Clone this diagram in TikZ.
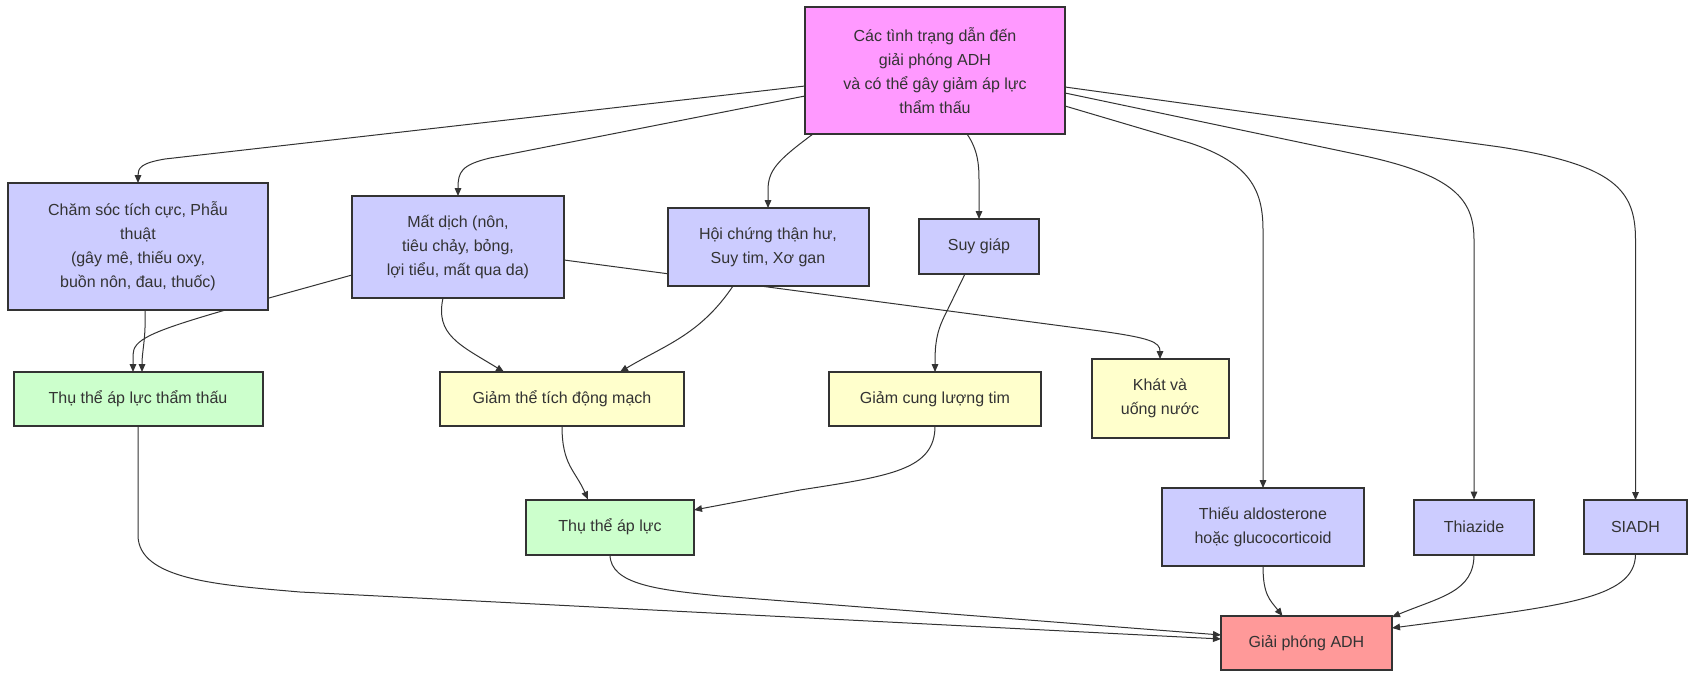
\documentclass[tikz,border=0pt]{standalone}
\usepackage{fontspec}
\setmainfont{Liberation Sans}
\usetikzlibrary{arrows.meta,backgrounds}
\definecolor{ink}{HTML}{333333}
\definecolor{pinkc}{HTML}{FF99FF}
\definecolor{bluec}{HTML}{CCCCFF}
\definecolor{greenc}{HTML}{CCFFCC}
\definecolor{yellowc}{HTML}{FFFFCC}
\definecolor{redc}{HTML}{FF9999}
\tikzset{
  box/.style={draw=ink, line width=1.5pt, inner sep=0pt, outer sep=0pt,
    align=center, text=ink, font=\fontsize{12}{18}\selectfont},
  conn/.style={draw=ink, line width=0.75pt, -{Triangle[length=6pt,width=5pt]}}
}
\begin{document}
\begin{tikzpicture}[x=0.75pt,y=-0.75pt]
\useasboundingbox (0,0) rectangle (1695,678);
% nodes
\node[box, fill=pinkc, minimum width=195pt, minimum height=95.25pt] (top) at (935,70.5)
  {Các tình trạng dẫn đến\\giải phóng ADH\\và có thể gây giảm áp lực\\thẩm thấu};
\node[box, fill=bluec, minimum width=195pt, minimum height=95.25pt] (A) at (138,246.5)
  {Chăm sóc tích cực, Phẫu\\thuật\\(gây mê, thiếu oxy,\\buồn nôn, đau, thuốc)};
\node[box, fill=bluec, minimum width=159pt, minimum height=76.5pt] (B) at (458,247)
  {Mất dịch (nôn,\\tiêu chảy, bỏng,\\lợi tiểu, mất qua da)};
\node[box, fill=bluec, minimum width=150.75pt, minimum height=58.5pt] (C) at (768,247)
  {Hội chứng thận hư,\\Suy tim, Xơ gan};
\node[box, fill=bluec, minimum width=90pt, minimum height=41.25pt] (suy) at (979,246.5)
  {Suy giáp};
\node[box, fill=greenc, minimum width=186.75pt, minimum height=40.5pt] (OR) at (138,399)
  {Thụ thể áp lực thẩm thấu};
\node[box, fill=yellowc, minimum width=183pt, minimum height=40.5pt] (AV) at (562,399)
  {Giảm thể tích động mạch};
\node[box, fill=yellowc, minimum width=159pt, minimum height=40.5pt] (CO) at (935,399)
  {Giảm cung lượng tim};
\node[box, fill=yellowc, minimum width=102.75pt, minimum height=59.25pt] (khat) at (1160,398.5)
  {Khát và\\uống nước};
\node[box, fill=greenc, minimum width=126pt, minimum height=41.25pt] (baro) at (610,527)
  {Thụ thể áp lực};
\node[box, fill=bluec, minimum width=151.5pt, minimum height=58.5pt] (thieu) at (1263,527)
  {Thiếu aldosterone\\hoặc glucocorticoid};
\node[box, fill=bluec, minimum width=90pt, minimum height=41.25pt] (thiaz) at (1474,527)
  {Thiazide};
\node[box, fill=bluec, minimum width=77.25pt, minimum height=40.5pt] (siadh) at (1635.5,527)
  {SIADH};
\node[box, fill=redc, minimum width=128.25pt, minimum height=40.5pt] (adh) at (1306.5,643)
  {Giải phóng ADH};
% connectors
\begin{scope}[on background layer]
\fill[white] (0,0) rectangle (1695,678);
\draw[conn] ([shift={(0,15.5)}]top.west) -- (165,159) .. controls (141,163) and (138,168) .. (A.north);
\draw[conn] ([shift={(0,25.5)}]top.west) -- (490,158) .. controls (461,165) and (458,172) .. (B.north);
\draw[conn] ([shift={(8,0)}]top.south west) .. controls (778,160) and (768,170) .. (768,190) -- (C.north);
\draw[conn] ([shift={(32,0)}]top.south) .. controls (978,150) and (979,165) .. (979,180) -- (suy.north);
\draw[conn] ([shift={(0,35.5)}]top.east) -- (1190,143) .. controls (1250,163) and (1263,190) .. (1263,230) -- (thieu.north);
\draw[conn] ([shift={(0,22.5)}]top.east) -- (1360,155) .. controls (1455,175) and (1474,200) .. (1474,240) -- (thiaz.north);
\draw[conn] ([shift={(0,16.5)}]top.east) -- (1500,147) .. controls (1615,165) and (1635.5,190) .. (1635.5,240) -- (siadh.north);
\draw[conn] ([shift={(7,0)}]A.south) .. controls (146,340) and (142,350) .. ([shift={(4,0)}]OR.north);
\draw[conn] ([shift={(0,28)}]B.west) -- (222,311) .. controls (150,332) and (133,340) .. (133,355) -- ([shift={(-5,0)}]OR.north);
\draw[conn] ([shift={(0,13)}]B.east) -- (1100,331) .. controls (1150,338) and (1160,342) .. (khat.north);
\draw[conn] ([shift={(-15,0)}]B.south) .. controls (435,335) and (460,345) .. ([shift={(-58,0)}]AV.north);
\draw[conn] ([shift={(-35,0)}]C.south) .. controls (700,335) and (665,345) .. ([shift={(58,0)}]AV.north);
\draw[conn] ([shift={(-14,0)}]suy.south) -- (945,315) .. controls (936,333) and (935,345) .. (CO.north);
\draw[conn] (AV.south) .. controls (562,465) and (575,470) .. ([shift={(-22,0)}]baro.north);
\draw[conn] (CO.south) .. controls (935,470) and (890,476) .. (800,490) -- ([shift={(0,-17)}]baro.east);
\draw[conn] (OR.south) -- (138,535) .. controls (138,580) and (220,585) .. (300,592) -- ([shift={(0,-4)}]adh.west);
\draw[conn] (baro.south) .. controls (610,585) and (660,590) .. (720,596) -- ([shift={(0,-8)}]adh.west);
\draw[conn] (thieu.south) .. controls (1263,595) and (1270,600) .. ([shift={(-24,0)}]adh.north);
\draw[conn] (thiaz.south) .. controls (1474,592) and (1440,597) .. ([shift={(0,1)}]adh.north east);
\draw[conn] (siadh.south) .. controls (1635.5,600) and (1560,606) .. ([shift={(0,-15)}]adh.east);
\end{scope}
\end{tikzpicture}
\end{document}
